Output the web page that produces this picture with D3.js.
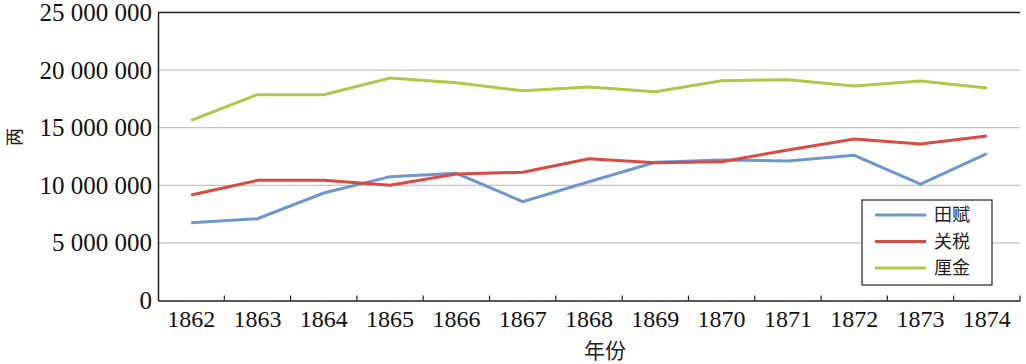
<html>
<head>
<meta charset="utf-8">
<style>
  body { margin: 0; background: #fff; }
  svg { display: block; }
</style>
</head>
<body>
<script src="https://d3js.org/d3.v7.min.js"></script>
<script>
// data
var years = ["1862","1863","1864","1865","1866","1867","1868","1869","1870","1871","1872","1873","1874"];
var tianfu = [6750000, 7100000, 9330000, 10750000, 11040000, 8580000, 10310000, 12000000, 12200000, 12110000, 12600000, 10110000, 12740000];
var guanshui = [9160000, 10430000, 10430000, 10000000, 10980000, 11130000, 12310000, 11960000, 12050000, 13060000, 14020000, 13590000, 14280000];
var lijin = [15640000, 17870000, 17870000, 19310000, 18900000, 18210000, 18530000, 18130000, 19080000, 19170000, 18620000, 19050000, 18450000];
var yTicks = [0, 5000000, 10000000, 15000000, 20000000, 25000000];
var seriesNames = ["田赋", "关税", "厘金"];
var colors = ["#6d98cf", "#d94a43", "#afc84a"];

var W = 1026, H = 364;
var margin = {top: 12.5, right: 6, bottom: 63.5, left: 158};
var width = W - margin.left - margin.right,
    height = H - margin.top - margin.bottom;

var serif = "Liberation Serif";
var cjk = "Noto Sans CJK SC";

var svg = d3.select("body").append("svg").attr("width", W).attr("height", H);
var g = svg.append("g").attr("transform", "translate(" + margin.left + "," + margin.top + ")");

var x = d3.scaleBand().domain(years).range([0, width]);
var y = d3.scaleLinear().domain([0, 25000000]).range([height, 0]);

var fmt = function(d) { return d3.format(",")(d).replace(/,/g, " "); };

// gridlines
g.selectAll(".grid").data(yTicks.slice(1, -1)).enter().append("line")
    .attr("x1", 0).attr("x2", width)
    .attr("y1", function(d) { return y(d); }).attr("y2", function(d) { return y(d); })
    .style("stroke", "#c4c4c4").style("stroke-width", 1.2);

// top border
g.append("line").attr("x1", 0).attr("x2", width).attr("y1", 0).attr("y2", 0)
    .style("stroke", "#222").style("stroke-width", 1.5);

// y axis
var yAxis = g.append("g")
    .call(d3.axisLeft(y).tickValues(yTicks).tickFormat(fmt).tickSize(0).tickPadding(6))
    .attr("font-family", serif).attr("font-size", 25);
yAxis.select(".domain").style("stroke", "#222").style("stroke-width", 1.5);
yAxis.selectAll("text").attr("font-family", serif).style("fill", "#111");

// x axis with inner ticks at band edges
var xAxis = g.append("g").attr("transform", "translate(0," + height + ")")
    .call(d3.axisBottom(x).tickSize(0).tickPadding(8))
    .attr("font-family", serif).attr("font-size", 24);
xAxis.select(".domain").style("stroke", "#222").style("stroke-width", 1.5);
xAxis.selectAll("text").attr("font-family", serif).style("fill", "#111").attr("dy", "0.75em");
g.selectAll(".xt").data(years.slice(1).concat(["end"])).enter().append("line")
    .attr("x1", function(d, i) { return x.step() * (i + 1); })
    .attr("x2", function(d, i) { return x.step() * (i + 1); })
    .attr("y1", height).attr("y2", height - 5)
    .style("stroke", "#222").style("stroke-width", 1.2);

// lines
var allSeries = [tianfu, guanshui, lijin];
var line = d3.line()
    .x(function(d, i) { return x(years[i]) + x.bandwidth() / 2; })
    .y(function(d) { return y(d); });

allSeries.forEach(function(s, k) {
    g.append("path").datum(s)
        .attr("d", line)
        .style("fill", "none")
        .style("stroke", colors[k])
        .style("stroke-width", 3);
});

// axis titles
svg.append("text")
    .attr("transform", "translate(13,137) rotate(-90)")
    .attr("text-anchor", "middle")
    .attr("dominant-baseline", "central")
    .attr("font-family", cjk)
    .attr("font-size", 18)
    .style("fill", "#222")
    .text("两");

svg.append("text")
    .attr("x", 605).attr("y", 358)
    .attr("text-anchor", "middle")
    .attr("font-family", cjk)
    .attr("font-size", 21)
    .style("fill", "#222")
    .text("年份");

// legend
var lg = svg.append("g").attr("transform", "translate(862,200)");
lg.append("rect").attr("width", 130).attr("height", 85)
    .style("fill", "#fff").style("stroke", "#222").style("stroke-width", 1.2);
seriesNames.forEach(function(name, k) {
    var yy = 15 + k * 26.5;
    lg.append("line").attr("x1", 13).attr("x2", 64).attr("y1", yy).attr("y2", yy)
        .style("stroke", colors[k]).style("stroke-width", 3);
    lg.append("text").attr("x", 72).attr("y", yy).attr("dy", "0.35em")
        .attr("font-family", cjk)
        .attr("font-size", 18)
        .style("fill", "#222")
        .text(name);
});
</script>
</body>
</html>
